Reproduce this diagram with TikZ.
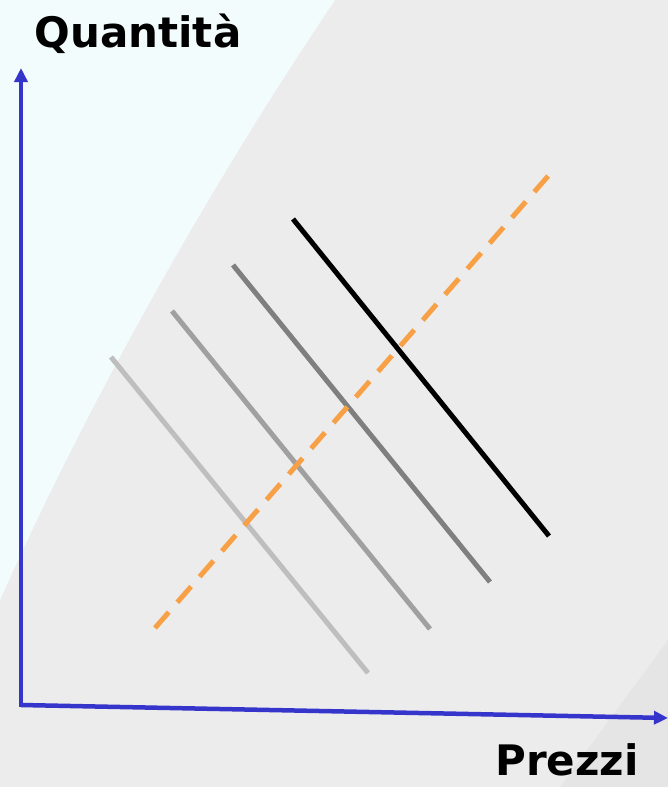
\documentclass[tikz,border=0pt]{standalone}
\usepackage{fontspec}
\setmainfont{DejaVu Sans}
\usetikzlibrary{arrows.meta}
\definecolor{bggray}{HTML}{ECECED}
\definecolor{bgcyan}{HTML}{F3FCFD}
\definecolor{axisblue}{HTML}{3535CC}
\definecolor{lineA}{HTML}{BEBEBE}
\definecolor{lineB}{HTML}{A0A0A0}
\definecolor{lineC}{HTML}{7F7F7F}
\definecolor{dashorange}{HTML}{F7A045}
\tikzset{
  axisline/.style={draw=axisblue, line width=4.5pt, -{Triangle[length=14pt,width=13pt]}},
  budget/.style={line width=5pt},
  expansion/.style={draw=dashorange, line width=5pt, dash pattern=on 21pt off 13pt},
  axislabel/.style={font=\fontsize{42}{42}\selectfont\bfseries, inner sep=0pt}
}
\begin{document}
\begin{tikzpicture}[x=1pt,y=-1pt]
\useasboundingbox (0,0) rectangle (668,787);
\fill[bggray] (0,0) rectangle (668,787);
\fill[bgcyan] (0,0) -- (335,0) .. controls (200,200) and (80,420) .. (0,600) -- cycle;
\fill[bggray!92!black, opacity=0.35] (668,640) -- (668,787) -- (560,787) -- cycle;
% coordinates
\coordinate (O) at (21,705);
\coordinate (Ytip) at (21,68);
\coordinate (Xtip) at (668,718);
\coordinate (a1) at (111,357); \coordinate (a2) at (368,673);
\coordinate (b1) at (172,311); \coordinate (b2) at (430,629);
\coordinate (c1) at (233,265); \coordinate (c2) at (490,582);
\coordinate (d1) at (293,219); \coordinate (d2) at (549,536);
\coordinate (e1) at (155,628); \coordinate (e2) at (549,175);
% budget lines
\draw[budget, lineA] (a1) -- (a2);
\draw[budget, lineB] (b1) -- (b2);
\draw[budget, lineC] (c1) -- (c2);
\draw[budget, black] (d1) -- (d2);
% expansion path
\draw[expansion] (e1) -- (e2);
% axes
\draw[axisline, line cap=rect] (O) -- (Ytip);
\draw[axisline] (O) -- (Xtip);
% labels
\node[axislabel, anchor=base] (qlab) at (138,47) {Quantità};
\node[axislabel, anchor=base] (plab) at (567,775) {Prezzi};
\end{tikzpicture}
\end{document}
